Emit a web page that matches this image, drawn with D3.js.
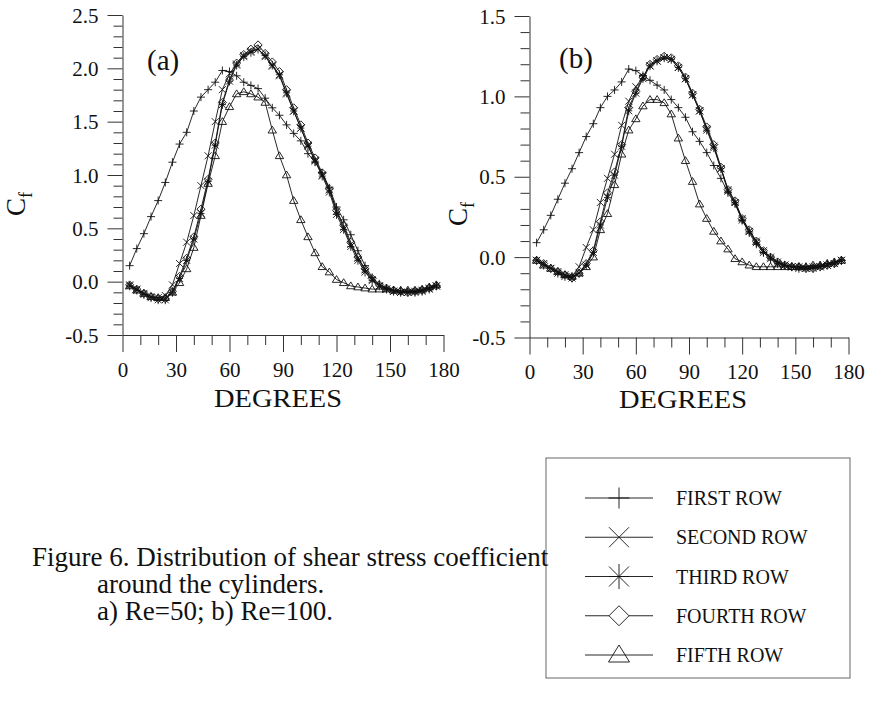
<!DOCTYPE html>
<html>
<head>
<meta charset="utf-8">
<script src="https://cdn.jsdelivr.net/npm/d3@7/dist/d3.min.js"></script>
<style>
  html, body { margin: 0; padding: 0; background: #fff; }
  svg { display: block; }
  text { font-family: "Liberation Serif", "Times New Roman", serif; fill: #111; }
</style>
</head>
<body>
<div id="chart"></div>
<script>
// ---------------- DATA ----------------
const angles = [4, 8, 12, 16, 20, 24, 28, 32, 36, 40, 44, 48, 52, 56, 60, 64, 68, 72, 76, 80, 84, 88,
  92, 96, 100, 104, 108, 112, 116, 120, 124, 128, 132, 136, 140, 144, 148, 152, 156, 160, 164, 168, 172, 176];

const seriesNames = ["FIRST ROW", "SECOND ROW", "THIRD ROW", "FOURTH ROW", "FIFTH ROW"];
const xTickLabels = [0, 30, 60, 90, 120, 150, 180];
const yTickLabelsA = [-0.5, 0.0, 0.5, 1.0, 1.5, 2.0, 2.5];
const yTickLabelsB = [-0.5, 0.0, 0.5, 1.0, 1.5];
const panelLabels = ["(a)", "(b)"];
const captionLines = ["Figure 6. Distribution of shear stress coefficient", "around the cylinders.", "a) Re=50; b) Re=100."];

// Panel (a): Re = 50
const a_first = [0.15, 0.31, 0.45, 0.61, 0.76, 0.93, 1.12, 1.29, 1.40, 1.60, 1.73, 1.80, 1.87, 1.98, 1.97, 1.93, 1.87, 1.84, 1.81, 1.72, 1.63, 1.56,
  1.47, 1.39, 1.32, 1.20, 1.12, 1.02, 0.88, 0.70, 0.58, 0.44, 0.29, 0.15, 0.04, -0.02, -0.06, -0.08, -0.09, -0.09, -0.09, -0.08, -0.06, -0.04];
const a_second = [-0.03, -0.07, -0.11, -0.14, -0.15, -0.13, -0.03, 0.17, 0.37, 0.62, 0.90, 1.18, 1.50, 1.80, 1.95, 2.04, 2.12, 2.16, 2.18, 2.11, 2.02, 1.93,
  1.76, 1.60, 1.44, 1.28, 1.14, 1.00, 0.86, 0.66, 0.51, 0.35, 0.22, 0.11, 0.02, -0.04, -0.07, -0.09, -0.10, -0.10, -0.09, -0.08, -0.06, -0.04];
const a_third = [-0.04, -0.08, -0.12, -0.15, -0.17, -0.17, -0.10, 0.03, 0.20, 0.40, 0.64, 0.94, 1.28, 1.66, 1.88, 2.03, 2.11, 2.15, 2.18, 2.12, 2.03, 1.94,
  1.77, 1.60, 1.44, 1.27, 1.13, 0.99, 0.84, 0.63, 0.49, 0.33, 0.20, 0.09, 0.01, -0.04, -0.07, -0.09, -0.10, -0.10, -0.10, -0.09, -0.07, -0.04];
const a_fourth = [-0.03, -0.07, -0.11, -0.14, -0.16, -0.16, -0.09, 0.05, 0.22, 0.42, 0.68, 0.96, 1.30, 1.68, 1.89, 2.05, 2.13, 2.18, 2.22, 2.14, 2.06, 1.97,
  1.80, 1.63, 1.47, 1.30, 1.16, 1.02, 0.87, 0.67, 0.53, 0.37, 0.23, 0.12, 0.03, -0.03, -0.06, -0.08, -0.09, -0.10, -0.09, -0.08, -0.06, -0.04];
const a_fifth = [-0.04, -0.08, -0.11, -0.14, -0.15, -0.15, -0.10, -0.01, 0.12, 0.32, 0.62, 0.92, 1.18, 1.50, 1.64, 1.76, 1.78, 1.76, 1.73, 1.68, 1.42, 1.18,
  1.00, 0.76, 0.58, 0.42, 0.27, 0.14, 0.09, 0.02, -0.01, -0.04, -0.05, -0.06, -0.07, -0.07, -0.07, -0.08, -0.08, -0.08, -0.08, -0.07, -0.05, -0.03];

// Panel (b): Re = 100
const b_first = [0.09, 0.17, 0.26, 0.36, 0.46, 0.55, 0.65, 0.75, 0.83, 0.93, 1.00, 1.04, 1.09, 1.17, 1.16, 1.13, 1.10, 1.07, 1.04, 0.98, 0.93, 0.87,
  0.78, 0.72, 0.65, 0.57, 0.49, 0.40, 0.33, 0.23, 0.15, 0.08, 0.03, 0.00, -0.03, -0.05, -0.06, -0.06, -0.06, -0.06, -0.05, -0.04, -0.03, -0.02];
const b_second = [-0.02, -0.04, -0.07, -0.09, -0.11, -0.12, -0.06, 0.06, 0.17, 0.34, 0.49, 0.64, 0.82, 0.97, 1.06, 1.12, 1.19, 1.22, 1.24, 1.23, 1.18, 1.11,
  1.01, 0.91, 0.80, 0.69, 0.55, 0.42, 0.34, 0.24, 0.16, 0.10, 0.04, 0.00, -0.03, -0.05, -0.06, -0.06, -0.07, -0.06, -0.06, -0.05, -0.04, -0.02];
const b_third = [-0.02, -0.05, -0.07, -0.10, -0.12, -0.13, -0.10, -0.05, 0.03, 0.20, 0.37, 0.51, 0.69, 0.91, 1.02, 1.11, 1.19, 1.22, 1.24, 1.23, 1.18, 1.11,
  1.01, 0.91, 0.79, 0.68, 0.55, 0.41, 0.34, 0.23, 0.16, 0.09, 0.03, -0.01, -0.04, -0.05, -0.06, -0.07, -0.07, -0.07, -0.06, -0.05, -0.04, -0.02];
const b_fourth = [-0.02, -0.04, -0.07, -0.09, -0.11, -0.13, -0.10, -0.04, 0.04, 0.22, 0.40, 0.53, 0.70, 0.93, 1.03, 1.12, 1.20, 1.23, 1.25, 1.24, 1.19, 1.12,
  1.02, 0.92, 0.81, 0.70, 0.56, 0.42, 0.35, 0.24, 0.17, 0.10, 0.04, 0.00, -0.03, -0.05, -0.06, -0.06, -0.07, -0.07, -0.06, -0.05, -0.04, -0.02];
const b_fifth = [-0.02, -0.05, -0.07, -0.09, -0.11, -0.12, -0.10, -0.06, 0.00, 0.17, 0.27, 0.45, 0.64, 0.79, 0.86, 0.94, 0.98, 0.98, 0.96, 0.89, 0.74, 0.60,
  0.47, 0.33, 0.24, 0.16, 0.10, 0.05, -0.01, -0.03, -0.05, -0.06, -0.06, -0.06, -0.06, -0.06, -0.06, -0.06, -0.06, -0.05, -0.05, -0.04, -0.03, -0.02];

// ---------------- MARKER SYMBOLS ----------------
const symPlus = { draw(c, s) { const r = Math.sqrt(s) / 2; c.moveTo(-r, 0); c.lineTo(r, 0); c.moveTo(0, -r); c.lineTo(0, r); } };
const symX = { draw(c, s) { const r = Math.sqrt(s) / 2; c.moveTo(-r, -r); c.lineTo(r, r); c.moveTo(-r, r); c.lineTo(r, -r); } };
const symStar = { draw(c, s) { const r = Math.sqrt(s) / 2; c.moveTo(-r, -r); c.lineTo(r, r); c.moveTo(-r, r); c.lineTo(r, -r);
  c.moveTo(0, -r * 1.25); c.lineTo(0, r * 1.25); c.moveTo(-r, 0); c.lineTo(r, 0); } };
const symDiamond = { draw(c, s) { const r = Math.sqrt(s) / 2; c.moveTo(0, -r); c.lineTo(r, 0); c.lineTo(0, r); c.lineTo(-r, 0); c.closePath(); } };
const symTriangle = { draw(c, s) { const r = Math.sqrt(s) / 2; c.moveTo(0, -r); c.lineTo(r * 1.05, r * 0.7); c.lineTo(-r * 1.05, r * 0.7); c.closePath(); } };
const symbolTypes = [symPlus, symX, symStar, symDiamond, symTriangle];

// ---------------- LAYOUT ----------------
const W = 876, H = 708;
const svg = d3.select("#chart").append("svg").attr("width", W).attr("height", H);

const panels = [
  { xr: [122.5, 443.5], yr: [335, 15], yd: [-0.5, 2.5], yTicks: yTickLabelsA,
    series: [a_first, a_second, a_third, a_fourth, a_fifth], label: panelLabels[0], labelPos: [147, 70],
    cf: [25, 204], xlab: [278, 407], xTickBase: 377 },
  { xr: [529.5, 848.5], yr: [337.5, 16], yd: [-0.5, 1.5], yTicks: yTickLabelsB,
    series: [b_first, b_second, b_third, b_fourth, b_fifth], label: panelLabels[1], labelPos: [559, 68],
    cf: [467, 214], xlab: [683, 408], xTickBase: 379 }
];

const fontSerif = '"Liberation Serif", "Times New Roman", serif';
const ink = "#111";

panels.forEach(p => {
  const x = d3.scaleLinear().domain([0, 180]).range(p.xr);
  const y = d3.scaleLinear().domain(p.yd).range(p.yr);
  const g = svg.append("g");

  // minor y ticks (every 0.1)
  const yMinor = d3.range(Math.round(p.yd[0] * 10), Math.round(p.yd[1] * 10) + 1).map(v => v / 10)
    .filter(v => Math.abs(v * 2 - Math.round(v * 2)) > 1e-6);
  g.append("g").attr("transform", `translate(${p.xr[0]},0)`)
    .call(d3.axisLeft(y).tickValues(yMinor).tickSize(9).tickSizeOuter(0).tickFormat(""))
    .call(s => s.select(".domain").remove());
  // major y ticks
  const yAx = g.append("g").attr("transform", `translate(${p.xr[0]},0)`)
    .call(d3.axisLeft(y).tickValues(p.yTicks).tickSize(15).tickSizeOuter(0).tickPadding(9)
      .tickFormat(d => d.toFixed(1)));
  // minor x ticks (every 10 deg)
  const xMinor = d3.range(0, 181, 10).filter(v => v % 30 !== 0);
  g.append("g").attr("transform", `translate(0,${p.yr[0]})`)
    .call(d3.axisBottom(x).tickValues(xMinor).tickSize(10).tickSizeOuter(0).tickFormat(""))
    .call(s => s.select(".domain").remove());
  const xAx = g.append("g").attr("transform", `translate(0,${p.yr[0]})`)
    .call(d3.axisBottom(x).tickValues(xTickLabels).tickSize(17).tickSizeOuter(0).tickPadding(9)
      .tickFormat(d3.format("d")));

  g.selectAll(".tick line").attr("stroke", "#333").attr("stroke-width", 1);
  g.selectAll(".domain").attr("stroke", "#333").attr("stroke-width", 1);
  [yAx, xAx].forEach(a => a.attr("font-family", fontSerif).attr("font-size", 21));
  g.selectAll(".tick text").attr("fill", ink);
  yAx.selectAll(".tick text").attr("dy", "0.34em");
  xAx.selectAll(".tick text").attr("dy", null).attr("y", p.xTickBase - p.yr[0]);

  // series: lines
  const line = d3.line().x((d, i) => x(angles[i])).y(d => y(d));
  p.series.forEach((vals, si) => {
    g.append("path").datum(vals).attr("d", line)
      .attr("fill", "none").attr("stroke", ink).attr("stroke-width", 0.9);
  });
  // series: markers
  p.series.forEach((vals, si) => {
    const sym = d3.symbol().type(symbolTypes[si]).size(si === 1 || si === 2 ? 49 : 64);
    g.append("g").selectAll("path").data(vals).join("path")
      .attr("transform", (d, i) => `translate(${x(angles[i])},${y(d)})`)
      .attr("d", sym)
      .attr("fill", "none").attr("stroke", ink).attr("stroke-width", 0.9);
  });

  // panel label
  svg.append("text").attr("x", p.labelPos[0]).attr("y", p.labelPos[1])
    .attr("font-size", 29).text(p.label);
  // y label C_f
  const cf = svg.append("text").attr("transform", `translate(${p.cf[0]},${p.cf[1]}) rotate(-90)`)
    .attr("text-anchor", "middle").attr("font-size", 27);
  cf.append("tspan").text("C");
  cf.append("tspan").attr("font-size", 18).attr("dy", 7).text("f");
  // x label
  svg.append("text").attr("x", p.xlab[0]).attr("y", p.xlab[1]).attr("text-anchor", "middle")
    .attr("font-size", 26).attr("textLength", 128).attr("lengthAdjust", "spacingAndGlyphs").text("DEGREES");
});

// ---------------- LEGEND ----------------
const lg = svg.append("g");
lg.append("rect").attr("x", 546).attr("y", 458).attr("width", 304).attr("height", 220)
  .attr("fill", "none").attr("stroke", "#666").attr("stroke-width", 1);
const legendY = d3.scalePoint().domain(seriesNames).range([498, 655]);
seriesNames.forEach((name, i) => {
  const yy = legendY(name);
  lg.append("line").attr("x1", 585).attr("x2", 653).attr("y1", yy).attr("y2", yy)
    .attr("stroke", ink).attr("stroke-width", 0.9);
  lg.append("path").attr("transform", `translate(619,${yy})`)
    .attr("d", d3.symbol().type(symbolTypes[i]).size(i === 0 ? 441 : 400)())
    .attr("fill", i === 3 ? "#fff" : "none").attr("stroke", ink).attr("stroke-width", 0.9);
  lg.append("text").attr("x", 676).attr("y", yy + 7).attr("font-size", 20).text(name);
});

// ---------------- CAPTION ----------------
const cap = svg.append("g").attr("font-size", 27);
cap.append("text").attr("x", 32).attr("y", 566).text(captionLines[0]);
cap.append("text").attr("x", 97).attr("y", 593).text(captionLines[1]);
cap.append("text").attr("x", 97).attr("y", 620).text(captionLines[2]);
</script>
</body>
</html>
